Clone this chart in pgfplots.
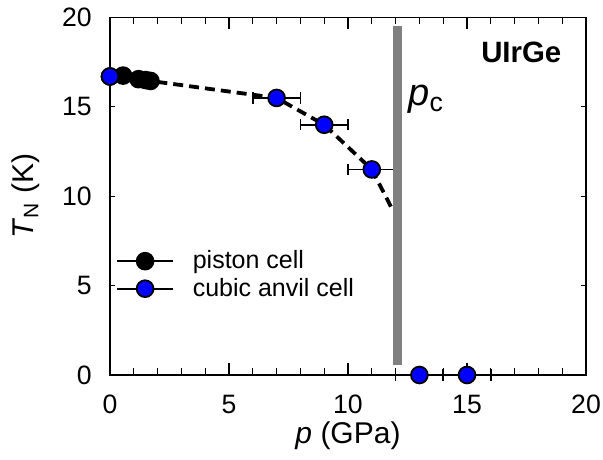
\documentclass[border=0pt]{standalone}
\usepackage{fontspec}
\setmainfont{Liberation Sans}
\usepackage{pgfplots}
\pgfplotsset{compat=1.18}
\definecolor{barGray}{RGB}{128,128,128}
\definecolor{ptBlue}{RGB}{0,0,255}
\begin{document}
\begin{tikzpicture}
\begin{axis}[
    scale only axis,
    width=238pt, height=178.75pt,
    xmin=0, xmax=20, ymin=0, ymax=20,
    xtick={0,5,...,20}, ytick={0,5,...,20},
    minor x tick num=4,
    tick align=inside,
    major tick length=6pt, minor tick length=3.5pt,
    tick style={black, line width=0.6pt},
    ytick style={/pgfplots/major tick length=2.5pt},
    axis line style={line width=0.7pt},
    /pgf/number format/assume math mode=true,
    ticklabel style={font=\fontsize{13.3}{15}\selectfont, inner sep=0pt},
    xticklabel style={yshift=-10pt},
    yticklabel style={xshift=-9pt},
    xlabel={\textit{p} (GPa)},
    ylabel={\textit{T}\textsubscript{N} (K)},
    label style={font=\fontsize{15}{17}\selectfont, inner sep=0pt},
    xlabel style={at={(axis description cs:0.5,0)}, anchor=center, yshift=-30.5pt},
    ylabel style={at={(axis description cs:-0.1765,0.5)}, anchor=center},
    clip=false,
    legend cell align=left,
    legend style={at={(0.0126,0.358)}, anchor=north west, draw=none, fill=none,
        inner sep=0pt, font=\fontsize{12.5}{14}\selectfont, row sep=0pt,
        column sep=6.5pt, nodes={inner xsep=3pt, inner ysep=1.6pt}},
]
% dashed guide to the eye
\addplot[black, line width=1.9pt, dash pattern=on 5pt off 3pt, forget plot]
    coordinates {(0,16.7)(0.55,16.75)(1.2,16.55)(1.5,16.5)(1.7,16.45)(7,15.5)(9,14)(11,11.5)(11.85,9.3)};

% piston cell
\addplot[only marks, mark=*, mark size=4.2pt,
    mark options={fill=black, draw=black, line width=0.9pt},
    legend image code/.code={
        \draw[black, line width=0.9pt] (0pt,0pt) -- (27.8pt,0pt);
        \draw[black, fill=black, line width=0.9pt] (13.9pt,0pt) circle (4.2pt);}]
    coordinates {(0,16.7)(0.55,16.75)(1.2,16.55)(1.5,16.5)(1.7,16.45)};
\addlegendentry{piston cell}

% cubic anvil cell
\addplot[only marks, mark=*, mark size=4.2pt,
    mark options={fill=ptBlue, draw=black, line width=0.9pt},
    legend image code/.code={
        \draw[black, line width=0.9pt] (0pt,0pt) -- (27.8pt,0pt);
        \draw[black, fill=ptBlue, line width=0.9pt] (13.9pt,0pt) circle (4.2pt);},
    error bars/.cd, x dir=both, x explicit,
    error bar style={black, line width=0.8pt},
    error mark options={rotate=90, mark size=2.8pt, line width=0.8pt, black}]
    coordinates {(0,16.7) +- (0,0) (7,15.5) +- (1,0) (9,14) +- (1,0)
                 (11,11.5) +- (1,0) (13,0) +- (1,0) (15,0) +- (1,0)};
\addlegendentry{cubic anvil cell}

% critical pressure bar
\addplot[barGray, line width=4.5pt, forget plot]
    coordinates {(12.09,0.55)(12.09,19.5)};

\node[anchor=base west, font=\fontsize{19}{21}\selectfont, inner sep=0pt] at (axis cs:12.52,15.05) {\textit{p}\textsubscript{c}};
\node[anchor=base east, font=\fontsize{14.7}{17}\selectfont\bfseries, inner sep=0pt] at (axis cs:18.98,17.51) {UIrGe};

% page margins as in the reference
\path (rel axis cs:0,0) ++(-55pt,-42pt) coordinate (bbA);
\path (rel axis cs:1,1) ++(8.5pt,8.75pt) coordinate (bbB);
\end{axis}
\end{tikzpicture}
\end{document}
